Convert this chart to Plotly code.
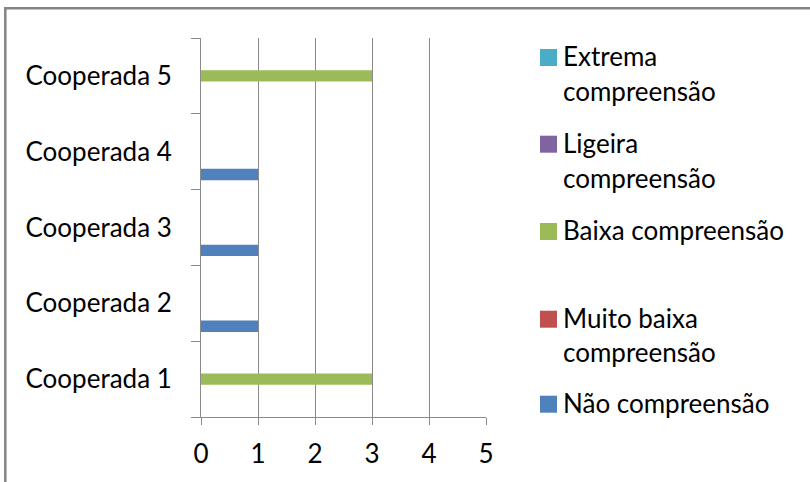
import plotly.graph_objects as go

# Categories (bottom to top) and counts per comprehension level
categories = ["Cooperada 1", "Cooperada 2", "Cooperada 3", "Cooperada 4", "Cooperada 5"]
nao_compreensao = [0, 1, 1, 1, 0]
muito_baixa = [0, 0, 0, 0, 0]
baixa = [3, 0, 0, 0, 3]
ligeira = [0, 0, 0, 0, 0]
extrema = [0, 0, 0, 0, 0]

series_names = ["Não compreensão", "Muito baixa compreensão", "Baixa compreensão",
                "Ligeira compreensão", "Extrema compreensão"]
series_values = [nao_compreensao, muito_baixa, baixa, ligeira, extrema]
series_colors = ["#4F81BD", "#C0504D", "#9BBB59", "#8064A2", "#4BACC6"]
# Legend text broken into lines, listed top entry first
legend_lines = [["Extrema", "compreensão"], ["Ligeira", "compreensão"],
                ["Baixa compreensão"], ["Muito baixa", "compreensão"],
                ["Não compreensão"]]
legend_colors = series_colors[::-1]
x_ticks = [0, 1, 2, 3, 4, 5]

W, H = 810, 482
L, R, T, B = 201, 486, 38, 417
FONT = "Lato"
FS = 26
GRID = "#8a8a8a"


def px_x(p):
    return (p - L) / (R - L)


def px_y(p):
    return (B - p) / (B - T)


fig = go.Figure()
for name, vals, col in zip(series_names, series_values, series_colors):
    fig.add_trace(go.Bar(y=categories, x=vals, name=name, orientation="h",
                         marker=dict(color=col, line=dict(width=0)),
                         showlegend=False))

# Hand-laid legend: square swatch plus one annotation per text line
line_baselines = [[65, 100], [151.7, 186.7], [239], [326.7, 360.5], [411.7]]
shapes = []
annotations = []
for lines, col, bases in zip(legend_lines, legend_colors, line_baselines):
    top = bases[0] - 16
    shapes.append(dict(type="rect", xref="paper", yref="paper",
                       x0=px_x(540), x1=px_x(557), y0=px_y(top), y1=px_y(top + 17),
                       fillcolor=col, line=dict(width=0)))
    for text, base in zip(lines, bases):
        annotations.append(dict(text=text, xref="paper", yref="paper",
                                x=px_x(561), y=px_y(base - 9), xanchor="left",
                                yanchor="middle", showarrow=False,
                                font=dict(family=FONT, size=FS, color="#000000")))

# Outer frame (left and top edges visible)
shapes.append(dict(type="path", xref="paper", yref="paper",
                   path=f"M {px_x(5.3)},{px_y(500)} L {px_x(5.3)},{px_y(8.3)} L {px_x(830)},{px_y(8.3)}",
                   line=dict(color="#848484", width=2.5)))

fig.update_layout(
    width=W, height=H,
    margin=dict(l=L, r=W - R, t=T, b=H - B, pad=0),
    paper_bgcolor="white", plot_bgcolor="white",
    barmode="group", bargap=0.245, bargroupgap=0,
    shapes=shapes, annotations=annotations,
    showlegend=False,
)
fig.update_xaxes(range=[0, 5], tickvals=x_ticks, showgrid=True, gridcolor=GRID, gridwidth=1,
                 zeroline=False, showline=True, linecolor=GRID, linewidth=1,
                 ticks="outside", ticklen=7, tickcolor=GRID, tickwidth=1,
                 ticklabelstandoff=7,
                 tickfont=dict(family=FONT, size=FS, color="#000000"), fixedrange=True)
fig.update_yaxes(type="category", categoryarray=categories, categoryorder="array",
                 showgrid=False, zeroline=False, showline=True, linecolor=GRID, linewidth=1,
                 ticks="outside", ticklen=9, tickcolor=GRID, tickwidth=1,
                 tickson="boundaries", ticklabelstandoff=23,
                 tickfont=dict(family=FONT, size=FS, color="#000000"), fixedrange=True)

fig.write_html("out.html", config={"displayModeBar": False})
